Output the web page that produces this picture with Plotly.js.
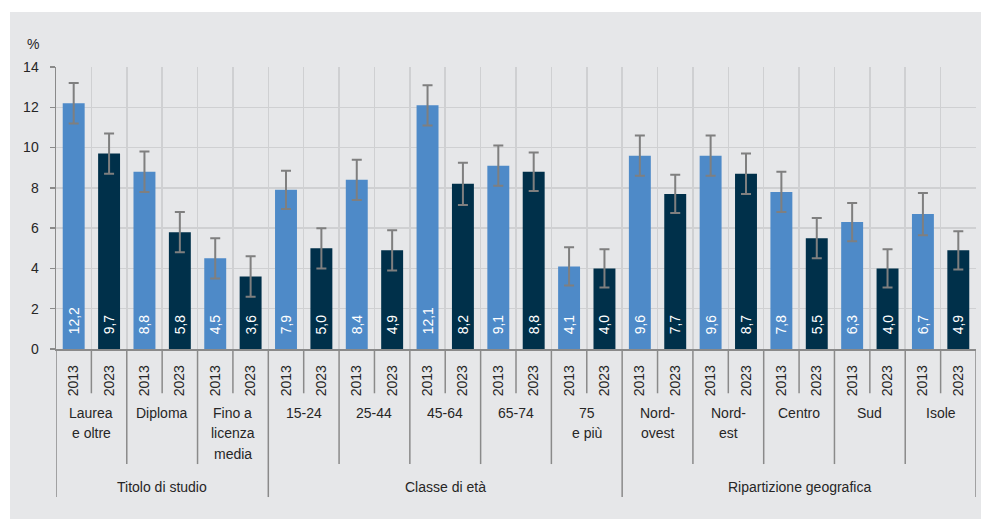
<!DOCTYPE html>
<html>
<head>
<meta charset="utf-8">
<script src="https://cdn.plot.ly/plotly-3.0.1.min.js"></script>
<style>
html,body{margin:0;padding:0;background:#ffffff;width:981px;height:519px;overflow:hidden;}
#chart{position:absolute;left:10px;top:12px;width:971px;height:507px;}
</style>
</head>
<body>
<div id="chart"></div>
<script>
// ---- data ----
const groups = ["Titolo di studio", "Classe di età", "Ripartizione geografica"];
const subgroups = ["Laurea<br>e oltre", "Diploma", "Fino a<br>licenza<br>media",
  "15-24", "25-44", "45-64", "65-74", "75<br>e più",
  "Nord-<br>ovest", "Nord-<br>est", "Centro", "Sud", "Isole"];
const subgroupGroup = [0, 0, 0, 1, 1, 1, 1, 1, 2, 2, 2, 2, 2];
const years = ["2013", "2023"];
const values2013 = [12.2, 8.8, 4.5, 7.9, 8.4, 12.1, 9.1, 4.1, 9.6, 9.6, 7.8, 6.3, 6.7];
const values2023 = [9.7, 5.8, 3.6, 5.0, 4.9, 8.2, 8.8, 4.0, 7.7, 8.7, 5.5, 4.0, 4.9];
const err2013 = [1.0, 1.0, 1.0, 0.95, 1.0, 1.0, 1.0, 0.95, 1.0, 1.0, 1.0, 0.95, 1.05];
const err2023 = [1.0, 1.0, 1.0, 1.0, 1.0, 1.05, 0.95, 0.95, 0.95, 1.0, 1.0, 0.95, 0.95];
const yTicks = [0, 2, 4, 6, 8, 10, 12, 14];
const yUnit = "%";

// ---- styles ----
const FONT = "'Liberation Sans', Arial, sans-serif";
const FS = 14;
const TXT = "#262626";
const BG = "#e6e7e9";
const GRID = "#cfd0d2";
const DIV = "#8a8a8a";
const C2013 = "#4e8ac8";
const C2023 = "#00304a";
const PAD = "\u00a0\u00a0\u00a0";

const x2013 = subgroups.map((_, i) => 2 * i);
const x2023 = subgroups.map((_, i) => 2 * i + 1);
const tickvals = [], ticktext = [];
subgroups.forEach((_, i) => { tickvals.push(2 * i, 2 * i + 1); ticktext.push(years[0], years[1]); });
const nCat = tickvals.length;
const boundaries = [];
for (let i = 0; i <= nCat; i++) boundaries.push(i - 0.5);

const barCommon = {
  type: 'bar', width: 0.62,
  texttemplate: PAD + '%{y:.1f}', textposition: 'inside', insidetextanchor: 'start', textangle: -90,
  textfont: {family: FONT, size: FS, color: '#ffffff'},
  hoverinfo: 'y', showlegend: false, cliponaxis: false
};
const errStyle = {type: 'data', visible: true, color: '#7f7f7f', thickness: 2, width: 5};
const traces = [
  Object.assign({}, barCommon, {
    name: years[0], x: x2013, y: values2013, marker: {color: C2013},
    error_y: Object.assign({array: err2013}, errStyle)
  }),
  Object.assign({}, barCommon, {
    name: years[1], x: x2023, y: values2023, marker: {color: C2023},
    error_y: Object.assign({array: err2023}, errStyle)
  })
];

// dividers below the axis
const shapes = [];
const yYear = -0.157, ySub = -0.408, yGroup = -0.525;
for (let i = 0; i <= nCat; i++) {
  const xb = i - 0.5;
  let bottom;
  if (i === 0 || i === nCat) bottom = yGroup;
  else if (i % 2 === 1) bottom = yYear;
  else {
    const s = i / 2;
    bottom = subgroupGroup[s] !== subgroupGroup[s - 1] ? yGroup : ySub;
  }
  shapes.push({type: 'line', xref: 'x', yref: 'paper', x0: xb, x1: xb, y0: 0, y1: bottom,
    line: {color: DIV, width: 1.5}});
}

const annotations = [];
const LINE = 20.3;
subgroups.forEach((s, i) => {
  s.split('<br>').forEach((line, k) => {
    annotations.push({xref: 'x', yref: 'paper', x: 2 * i + 0.5, y: -0.227, yshift: -k * LINE,
      yanchor: 'middle', xanchor: 'center',
      text: line, showarrow: false, font: {family: FONT, size: FS, color: TXT}});
  });
});
groups.forEach((g, gi) => {
  const idx = subgroupGroup.map((v, i) => v === gi ? i : -1).filter(v => v >= 0);
  const xc = (2 * idx[0] + 2 * idx[idx.length - 1] + 1) / 2;
  annotations.push({xref: 'x', yref: 'paper', x: xc, y: -0.489, yanchor: 'middle', xanchor: 'center',
    text: g, showarrow: false, font: {family: FONT, size: FS, color: TXT}});
});
annotations.push({xref: 'paper', yref: 'paper', x: -0.025, y: 1.082, xanchor: 'center', yanchor: 'middle',
  text: yUnit, showarrow: false, font: {family: FONT, size: FS, color: TXT}});

const layout = {
  width: 971, height: 507,
  margin: {l: 46, r: 5, t: 55, b: 170, pad: 0},
  paper_bgcolor: BG, plot_bgcolor: BG,
  separators: ',.',
  barmode: 'overlay',
  font: {family: FONT, size: FS, color: TXT},
  xaxis: {
    range: [-0.5, nCat - 0.5], tickmode: 'array', tickvals: tickvals, ticktext: ticktext,
    tickangle: -90, ticks: '', showgrid: false, zeroline: false,
    showline: true, linecolor: DIV, linewidth: 1.5, ticklabelstandoff: 9,
    tickfont: {family: FONT, size: FS, color: TXT},
    minor: {tickvals: boundaries, showgrid: true, gridcolor: GRID, gridwidth: 1.5, ticks: ''}
  },
  yaxis: {
    range: [0, 14], tickmode: 'array', tickvals: yTicks, ticks: 'outside', ticklen: 5,
    tickcolor: DIV, tickwidth: 1.5, showline: true, linecolor: DIV, linewidth: 1.5,
    showgrid: true, gridcolor: GRID, gridwidth: 1.5, zeroline: false, ticklabelstandoff: 8,
    tickfont: {family: FONT, size: FS, color: TXT}
  },
  shapes: shapes,
  annotations: annotations
};

Plotly.newPlot('chart', traces, layout, {displayModeBar: false, staticPlot: true});
</script>
</body>
</html>
